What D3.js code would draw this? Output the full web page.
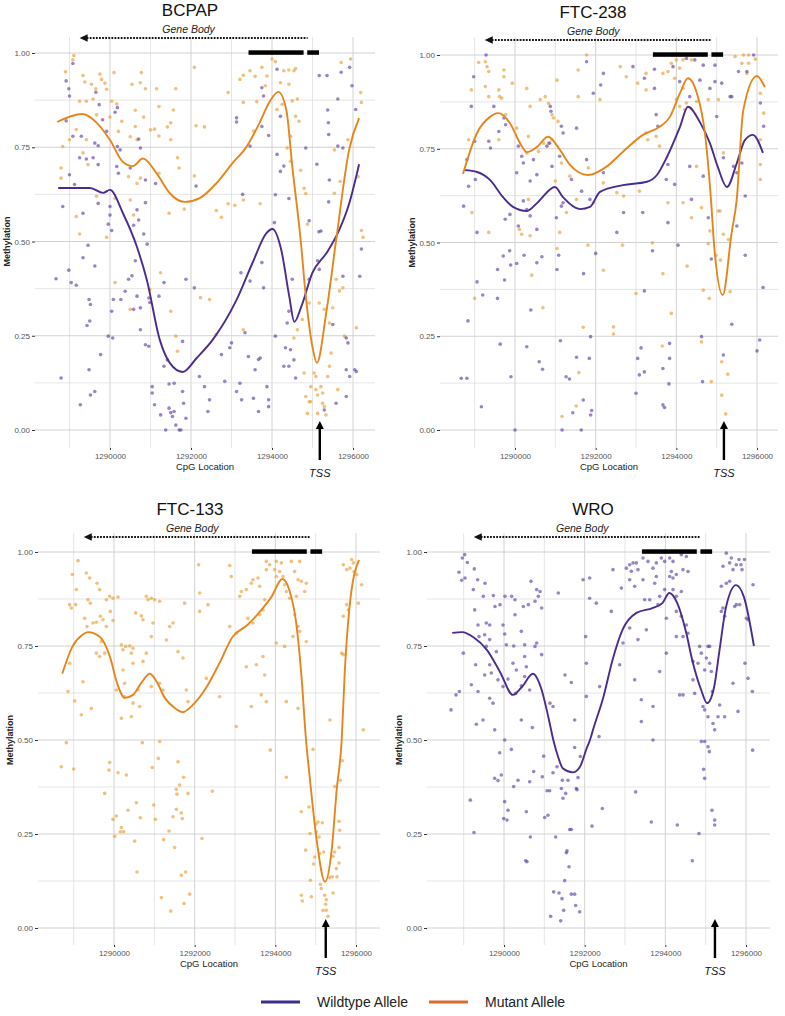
<!DOCTYPE html>
<html>
<head>
<meta charset="utf-8">
<script src="https://cdn.jsdelivr.net/npm/d3@7"></script>
<style>
  html, body { margin: 0; padding: 0; background: #fff; }
  svg text { font-family: "Liberation Sans", Arial, sans-serif; }
</style>
</head>
<body>
<svg id="chart" width="785" height="1016"></svg>
<script>
// ---------------- DATA ----------------
const panelTitles = ["BCPAP", "FTC-238", "FTC-133", "WRO"];
const seriesNames = ["Wildtype Allele", "Mutant Allele"];
const xTicks = [1290000, 1292000, 1294000, 1296000];
const yTicks = [0, 0.25, 0.5, 0.75, 1];
const xLabel = "CpG Location";
const yLabel = "Methylation";
const geneBodyLabel = "Gene Body";
const tssLabel = "TSS";
const tssPosition = [1295180, 1295180, 1295250, 1295230];
const geneBodyArrow = [1289250, 1294880];
const geneBodyLabelX = 1291940;
const exonBar1 = [1293420, 1294780];
const exonBar2 = [1294870, 1295160];

// BCPAP
const bcpapWtPoints = [[1289083,.972],[1288917,.926],[1288983,.905],[1289000,.886],[1289650,.896],[1290183,.855],[1290125,.843],[1289817,.823],[1289733,.863],[1290750,.748],[1290708,.772],[1288917,.82],[1289083,.779],[1289292,.779],[1289625,.761],[1289708,.754],[1289917,.792],[1290183,.752],[1290250,.743],[1289250,.722],[1289417,.719],[1289583,.722],[1289708,.704],[1290167,.699],[1290208,.681],[1290500,.695],[1290875,.663],[1291125,.654],[1292125,.647],[1289000,.677],[1289125,.651],[1289708,.601],[1288833,.593],[1289333,.575],[1290000,.593],[1290000,.57],[1290667,.584],[1290875,.603],[1290583,.543],[1290708,.557],[1289958,.546],[1290042,.529],[1290833,.52],
[1294125,.957],[1293750,.908],[1293792,.886],[1294208,.832],[1293125,.828],[1293125,.817],[1293750,.805],[1293917,.781],[1293458,.753],[1294833,.748],[1294125,.731],[1294292,.7],[1294208,.686],[1295108,.705],[1295375,.849],[1295358,.94],[1295167,.94],[1295708,.949],[1295917,.962],[1295975,.913],[1296067,.85],[1295625,.878],[1295392,.815],[1295400,.784],[1295625,.753],[1295750,.748],[1295417,.663],[1295400,.605],[1294083,.624],[1294417,.614],[1293275,.625],[1294058,.55],[1294917,.555],[1295158,.526],
[1288667,.401],[1288792,.138],[1288983,.424],[1289042,.391],[1289167,.384],[1289267,.067],[1289333,.457],[1289458,.49],[1289433,.277],[1289483,.346],[1289517,.333],[1289500,.289],[1289483,.16],[1289517,.093],[1289625,.102],[1289625,.435],[1289767,.2],[1289958,.249],[1290067,.244],[1290042,.315],[1290083,.346],[1290267,.346],[1290375,.368],[1290458,.4],[1290542,.409],[1290583,.32],[1290625,.449],[1290667,.355],[1290750,.324],[1290917,.493],[1290958,.35],[1290983,.338],[1290750,.266],[1290875,.226],[1290958,.222],[1291042,.115],[1291042,.098],[1291100,.067],[1291250,.04],[1291375,0],[1291458,.058],[1291500,.046],[1291542,.036],[1291583,.049],[1291625,.013],[1291708,0],[1291817,.071],[1291875,.031],[1291750,0],[1291792,.102],[1291583,.124],[1291458,.122],[1291417,.186],[1291333,.169],[1291208,.355],[1291333,.391],[1291792,.235],[1291875,.4],[1292083,.377],[1292208,.142],[1292333,.115],[1292417,.049],[1292458,.08],[1292750,.2],[1292833,.129],[1292958,.218],[1293000,.231],[1293125,.102],[1293208,.124],[1293233,.417],[1293250,.08],[1293333,.258],[1293417,.195],[1293458,.395],[1293542,.084],[1293583,.16],[1293667,.049],[1293708,.191],[1293750,.444],[1293792,.377],[1293667,.187],[1293875,.115],[1293917,.062],[1293917,.08],[1294083,.249],[1294333,.218],[1294375,.284],[1294417,.315],[1294458,.213],[1294500,.4],[1294292,.169],[1294417,.169],[1294542,.186],[1294583,.138],[1295292,.053],[1295500,.28],[1295208,.528],[1295125,.449],[1294917,.4],[1295167,.426],[1295750,.408],[1295875,.231],[1295833,.16],[1295833,.089],[1295917,.142],[1296042,.16],[1296083,.155],[1296167,.408],[1296208,.48],[1295583,.071],[1295833,.244]];
const bcpapMutPoints = [[1289108,.993],[1289083,.982],[1288900,.95],[1289333,.94],[1289375,.923],[1289542,.917],[1289650,.905],[1289750,.944],[1289792,.93],[1289875,.92],[1289917,.904],[1290100,.948],[1290167,.865],[1290000,.83],[1289667,.836],[1289583,.878],[1289417,.872],[1289250,.872],[1290042,.872],[1290542,.917],[1290750,.921],[1290875,.905],[1291150,.905],[1291625,.905],[1290775,.948],[1292083,.962],[1291208,.858],[1291567,.849],[1290625,.848],[1290833,.83],[1290292,.819],[1290625,.805],[1291000,.796],[1291100,.798],[1291417,.804],[1292125,.807],[1292333,.804],[1291500,.815],[1290208,.792],[1290500,.778],[1290667,.77],[1291208,.78],[1291500,.77],[1288833,.752],[1289000,.77],[1289167,.797],[1289417,.77],[1289333,.735],[1288792,.695],[1289458,.704],[1290458,.672],[1290750,.668],[1290667,.654],[1291208,.681],[1291667,.722],[1291708,.695],[1292083,.674],[1288792,.668],[1289667,.62],[1289167,.566],[1290125,.614],[1290500,.61],[1290583,.57],[1291458,.575],[1291833,.586],[1289250,.52],[1289917,.511],
[1293750,.962],[1294000,.984],[1294083,.977],[1294292,.953],[1294417,.955],[1294542,.953],[1294583,.959],[1293208,.93],[1293292,.941],[1293458,.953],[1293583,.938],[1293875,.939],[1293833,.913],[1293625,.871],[1293292,.869],[1292917,.895],[1294208,.921],[1294417,.917],[1294250,.864],[1294125,.85],[1294500,.873],[1294625,.878],[1294583,.832],[1294667,.819],[1293542,.793],[1294458,.779],[1294375,.748],[1294458,.713],[1294708,.689],[1295708,.975],[1295942,.984],[1296192,.895],[1296208,.869],[1295875,.77],[1295542,.743],[1295683,.659],[1295542,.628],[1296125,.672],[1294792,.641],[1294833,.627],[1292917,.6],[1293083,.596],[1293292,.61],[1293708,.6],[1292625,.582],[1292750,.564],[1294875,.546],[1296208,.529],
[1290125,.391],[1290500,.32],[1290983,.373],[1291250,.417],[1291500,.315],[1291625,.249],[1291667,.209],[1292233,.351],[1292458,.346],[1292625,.253],[1293292,.266],[1294542,.244],[1294625,.266],[1294750,.293],[1294792,.151],[1294833,.089],[1294875,.044],[1294917,.075],[1294958,.075],[1294958,.115],[1295042,.151],[1295083,.107],[1295125,.093],[1295208,.115],[1295250,.098],[1295250,.071],[1295292,.062],[1295333,.04],[1295125,.044],[1295083,.142],[1295375,.142],[1295417,.169],[1294917,.337],[1295167,.337],[1295292,.32],[1295417,.284],[1295500,.324],[1295458,.204],[1295583,.4],[1295667,.369],[1295750,.377],[1295792,.249],[1296083,.271],[1296250,.511],[1295625,.107]];
const bcpapWtSmooth = [[1288720,.642],[1289508,.642],[1289828,.629],[1290000,.637],[1290320,.575],[1290664,.486],[1290910,.398],[1291230,.239],[1291476,.178],[1291796,.154],[1292140,.191],[1292534,.239],[1293124,.345],[1293518,.443],[1293862,.522],[1294010,.533],[1294230,.477],[1294428,.353],[1294551,.287],[1294723,.327],[1294994,.416],[1295362,.472],[1295658,.53],[1295904,.6],[1296150,.705]];
const bcpapMutSmooth = [[1288696,.817],[1289311,.838],[1289680,.814],[1290000,.769],[1290320,.711],[1290566,.70],[1290812,.72],[1291156,.68],[1291476,.628],[1291845,.605],[1292214,.615],[1292632,.655],[1293026,.708],[1293370,.751],[1293690,.814],[1293936,.87],[1294157,.897],[1294354,.849],[1294502,.698],[1294708,.504],[1294830,.36],[1295000,.22],[1295110,.178],[1295338,.31],[1295584,.504],[1295904,.743],[1296150,.827]];

// FTC-238
const ftc238WtPoints = [[1289283,1.0],[1288975,.942],[1288917,.863],[1289475,.863],[1289725,.832],[1289767,.814],[1289000,.77],[1289350,.77],[1289392,.752],[1289600,.796],[1288808,.721],[1289017,.668],[1290083,.757],[1290167,.73],[1290042,.686],[1290208,.712],[1290458,.721],[1290542,.681],[1290375,.664],[1290792,.757],[1290858,.765],[1290917,.703],[1290875,.863],[1290892,.85],[1291150,.81],[1291192,.792],[1291108,.73],[1291400,.668],[1291525,.805],[1291650,.637],[1291775,.982],[1292125,.92],[1291942,.898],[1292192,.951],[1292925,.969],[1293458,.962],[1293458,.911],[1293208,.938],[1293917,.969],[1294250,.991],[1294458,.987],[1294083,.929],[1294667,.973],[1294958,.973],[1294583,.933],[1294833,.911],[1294958,.929],[1295125,.925],[1295333,.889],[1295375,.889],[1294333,.889],[1295000,.836],[1295917,1.0],[1295542,.956],[1295750,.956],[1296083,.872],[1296167,.81],[1295625,.712],[1295500,.686],[1295708,.624],[1295500,.544],[1293500,.841],[1293542,.81],[1293792,.708],[1293750,.668],[1293792,.553],[1293167,.58],[1293958,.655],[1294333,.703],[1294667,.677],[1294375,.615],[1294792,.566],[1295167,.726],[1295417,.703],[1291775,.721],[1291858,.615],[1292192,.686],[1292692,.58],[1292525,.527],[1291192,.606],[1291150,.597],[1291025,.566],[1290542,.535],[1290375,.571],[1290208,.611],[1290292,.588],[1290083,.544],[1289875,.575],[1289758,.562],[1289058,.527],[1288850,.65],[1288725,.597],
[1288667,.138],[1288808,.138],[1288833,.291],[1289058,.395],[1289200,.36],[1289167,.062],[1289567,.428],[1289567,.351],[1289633,.229],[1289708,.464],[1289742,.4],[1289867,.478],[1289892,.44],[1289900,.142],[1290000,0],[1290042,.444],[1290225,.466],[1290292,.222],[1290392,.32],[1290542,.446],[1290600,.182],[1290667,.462],[1290683,.162],[1291042,.428],[1291083,.466],[1291125,.238],[1291167,0],[1291267,.142],[1291350,.136],[1291433,.046],[1291525,.194],[1291642,0],[1291692,.08],[1291700,.417],[1291842,.191],[1291875,.249],[1291875,.04],[1291900,.052],[1292000,.471],[1293000,.098],[1293042,.191],[1293083,.147],[1293125,.219],[1293208,.155],[1293208,.371],[1293408,.478],[1293667,.164],[1293667,.067],[1293708,.06],[1293833,.231],[1293833,.191],[1293817,.123],[1294042,.493],[1294625,.249],[1294650,.129],[1294867,.456],[1295167,.2],[1295375,.282],[1295708,.466],[1296000,.211],[1296067,.24],[1296150,.38]];
const ftc238MutPoints = [[1289100,.98],[1289267,.982],[1289308,.969],[1289350,.956],[1288917,.907],[1289267,.916],[1289350,.889],[1289600,.907],[1289617,.889],[1289667,.885],[1289725,.96],[1289725,.942],[1289933,.925],[1289767,.841],[1289600,.774],[1288850,.774],[1290042,.805],[1290333,.783],[1290292,.739],[1290583,.743],[1290708,.765],[1290833,.765],[1290917,.774],[1291000,.664],[1291042,.933],[1290292,.911],[1290375,.863],[1290625,.881],[1290750,.889],[1290833,.871],[1290917,.841],[1290958,.832],[1291067,.823],[1291150,.712],[1291358,.677],[1291775,1.0],[1291567,.96],[1292108,.881],[1291567,.889],[1292608,.969],[1292758,.942],[1293042,.925],[1293250,.907],[1293250,.951],[1293667,.951],[1293792,.956],[1294000,.987],[1294167,.987],[1294375,.987],[1294083,.965],[1293875,.978],[1293958,.938],[1294167,.911],[1294792,.881],[1294000,.881],[1294083,.863],[1294250,.872],[1294500,.876],[1294208,.854],[1295042,.881],[1295458,.996],[1295625,.978],[1295667,1.0],[1295792,1.0],[1295958,.989],[1295792,.978],[1295750,.951],[1296083,.898],[1296167,.845],[1296083,.774],[1296083,.708],[1296083,.668],[1293500,.783],[1293583,.757],[1293250,.792],[1293292,.774],[1293083,.637],[1293792,.606],[1294167,.606],[1294500,.703],[1294625,.593],[1294375,.566],[1294833,.531],[1295042,.584],[1295083,.584],[1295167,.522],[1295167,.739],[1291817,.699],[1292192,.659],[1292525,.633],[1292692,.624],[1291942,.606],[1291525,.615],[1291275,.58],[1291108,.527],[1290333,.615],[1290108,.535],[1289350,.527],[1288933,.58],[1290375,.518],
[1289000,.351],[1290167,.522],[1290417,.413],[1290692,.326],[1291042,.484],[1291167,.036],[1291517,.064],[1291583,.153],[1291692,.274],[1291808,.493],[1292192,.426],[1292442,.275],[1292442,.256],[1292667,.493],[1293000,.364],[1293408,.499],[1293650,.224],[1293667,.417],[1293875,.311],[1294267,.437],[1294667,.373],[1294625,.235],[1294817,.351],[1294867,.129],[1294983,.466],[1295092,.453],[1295125,.182],[1295125,.093],[1295225,.043],[1295275,.149],[1295333,.369],[1295292,.508],[1294792,.497]];
const ftc238WtSmooth = [[1288761,.693],[1289058,.688],[1289380,.667],[1289703,.621],[1289950,.595],[1290297,.584],[1290545,.605],[1290991,.648],[1291189,.621],[1291611,.589],[1291859,.595],[1292107,.635],[1292676,.653],[1293271,.662],[1293519,.68],[1293767,.728],[1294089,.808],[1294287,.862],[1294584,.821],[1294832,.765],[1295030,.701],[1295253,.648],[1295501,.712],[1295699,.773],[1295898,.787],[1296146,.739]];
const ftc238MutSmooth = [[1288711,.683],[1289058,.792],[1289380,.835],[1289579,.845],[1289876,.818],[1290124,.765],[1290297,.741],[1290545,.755],[1290818,.782],[1291115,.747],[1291363,.707],[1291809,.68],[1292280,.703],[1292676,.742],[1293172,.787],[1293593,.809],[1293841,.835],[1294089,.898],[1294287,.938],[1294510,.898],[1294708,.792],[1294860,.613],[1294940,.488],[1295150,.36],[1295370,.525],[1295496,.613],[1295660,.853],[1295997,.944],[1296195,.914]];

// FTC-133 (mutant only)
const ftc133MutPoints = [[1289107,.977],[1288967,.94],[1289314,.944],[1289397,.931],[1289579,.917],[1289645,.9],[1289066,.9],[1289050,.86],[1288900,.86],[1288942,.851],[1289355,.873],[1289413,.864],[1289273,.824],[1289331,.802],[1289479,.811],[1289562,.813],[1289727,.82],[1289810,.873],[1289893,.882],[1289975,.877],[1290099,.88],[1289909,.842],[1289975,.818],[1289810,.802],[1289661,.829],[1289686,.762],[1289562,.731],[1289645,.722],[1289769,.731],[1288900,.704],[1288860,.629],[1289231,.655],[1289190,.567],[1289438,.584],[1289025,.604],[1290182,.753],[1290223,.74],[1290289,.749],[1290388,.75],[1290471,.744],[1290430,.731],[1290537,.838],[1290678,.83],[1290719,.82],[1290802,.882],[1290843,.873],[1290926,.877],[1291008,.873],[1291132,.869],[1290967,.811],[1290926,.775],[1290802,.731],[1290719,.709],[1290471,.704],[1290223,.686],[1290264,.651],[1290058,.633],[1290264,.615],[1290595,.633],[1290471,.598],[1290182,.558],[1290430,.562],[1290636,.589],[1290926,.642],[1291132,.651],[1291215,.633],[1291298,.766],[1291380,.802],[1291463,.811],[1291587,.735],[1291711,.718],[1291793,.633],[1291835,.602],[1291752,.864],[1292124,.891],[1292124,.842],[1292331,.86],[1292099,.966],[1292289,.664],[1292620,.615],[1292868,.964],[1292909,.935],[1292868,.802],[1293033,.784],[1293116,.882],[1293157,.895],[1293281,.9],[1293405,.917],[1293446,.926],[1293570,.931],[1293612,.909],[1293322,.824],[1293446,.811],[1293612,.833],[1293694,.846],[1293736,.873],[1293777,.953],[1293777,.975],[1293860,.966],[1293983,.953],[1294025,.975],[1294025,.935],[1294107,.948],[1294149,.971],[1294190,.935],[1294231,.913],[1294273,.895],[1294397,.975],[1294479,.948],[1294562,.926],[1294603,.975],[1294645,.922],[1294727,.895],[1294521,.882],[1294355,.877],[1294479,.833],[1294562,.802],[1294603,.789],[1294769,.762],[1294438,.775],[1294231,.749],[1294025,.758],[1293694,.722],[1293529,.7],[1293736,.673],[1293653,.62],[1293777,.602],[1293405,.589],[1293281,.695],[1293033,.536],[1294273,.602],[1294562,.584],[1295355,.553],[1295645,.731],[1295686,.727],[1295686,.829],[1295769,.86],[1295810,.846],[1295686,.966],[1295769,.953],[1295851,.957],[1295893,.98],[1295934,.971],[1295950,.948],[1296017,.94],[1296058,.864],[1296141,.913],[1296182,.527],[1294769,.917],
[1288818,.493],[1288694,.429],[1289000,.423],[1289769,.358],[1289893,.44],[1289876,.42],[1290099,.413],[1290306,.407],[1289975,.289],[1290058,.298],[1290017,.244],[1290182,.267],[1290157,.256],[1290240,.256],[1290347,.313],[1290554,.333],[1290512,.231],[1290570,.149],[1290653,.293],[1290702,.493],[1290950,.427],[1290983,.327],[1291025,.289],[1291099,.451],[1291132,.496],[1291174,.081],[1291231,.235],[1291364,.258],[1291405,.045],[1291504,.214],[1291463,.296],[1291545,.316],[1291545,.369],[1291562,.356],[1291587,.442],[1291628,.38],[1291669,.306],[1291694,.291],[1291669,.14],[1291735,.065],[1291727,.401],[1291777,.149],[1291835,.358],[1291876,.09],[1292182,.238],[1292438,.364],[1293876,.473],[1294273,.401],[1294645,.309],[1294752,.207],[1294835,.322],[1294645,.087],[1294669,.072],[1294868,.127],[1294893,.083],[1294934,.475],[1294975,.189],[1294950,.17],[1295000,.276],[1295017,.256],[1295058,.282],[1295083,.242],[1295099,.198],[1295116,.116],[1295140,.105],[1295165,.28],[1295198,.202],[1295223,.087],[1295248,.063],[1295264,.047],[1295306,.031],[1295182,.047],[1295264,.075],[1295347,.134],[1295413,.136],[1295430,.093],[1295430,.191],[1295471,.202],[1295512,.158],[1295529,.136],[1295579,.173],[1295579,.214],[1295471,.376],[1295595,.26],[1295612,.393],[1295661,.445],[1295579,.284],[1294860,.251]];
const ftc133MutSmooth = [[1288716,.676],[1288963,.747],[1289210,.779],[1289358,.787],[1289654,.774],[1289901,.721],[1290074,.652],[1290272,.612],[1290469,.62],[1290691,.654],[1290889,.676],[1291062,.654],[1291259,.612],[1291506,.585],[1291704,.574],[1291951,.593],[1292296,.641],[1292617,.705],[1292938,.774],[1293308,.806],[1293654,.846],[1293900,.88],[1294173,.928],[1294346,.899],[1294518,.811],[1294642,.678],[1294761,.5],[1294860,.393],[1295025,.234],[1295232,.123],[1295397,.207],[1295521,.367],[1295645,.5],[1295720,.678],[1295840,.854],[1296074,.979]];

// WRO (wildtype only)
const wroWtPoints = [[1289025,.993],[1288967,.984],[1289091,.972],[1288884,.946],[1288950,.925],[1289033,.931],[1289264,.955],[1289347,.926],[1289529,.917],[1289240,.9],[1289488,.882],[1289736,.884],[1289777,.855],[1289901,.86],[1290025,.882],[1290190,.882],[1290273,.873],[1290273,.833],[1290479,.855],[1290603,.86],[1290669,.922],[1290769,.869],[1290810,.9],[1290893,.895],[1290851,.882],[1290934,.851],[1290810,.758],[1290934,.727],[1289273,.846],[1289355,.806],[1289562,.811],[1289645,.806],[1289645,.767],[1289521,.78],[1289380,.775],[1289562,.749],[1289297,.7],[1289645,.7],[1289810,.735],[1289975,.806],[1290017,.782],[1290058,.753],[1290223,.704],[1290240,.75],[1290430,.789],[1290512,.753],[1290512,.722],[1290554,.695],[1290512,.669],[1290769,.749],[1288992,.731],[1288686,.58],[1288810,.62],[1288893,.629],[1289190,.647],[1289355,.629],[1289521,.673],[1289686,.678],[1289851,.66],[1289975,.642],[1290099,.662],[1290306,.686],[1290289,.624],[1290430,.644],[1290636,.633],[1289645,.611],[1289727,.598],[1289314,.542],[1289479,.553],[1289769,.527],[1290017,.5],[1290702,.533],[1290430,.553],[1291140,.598],[1291215,.589],[1291347,.891],[1291512,.673],[1291669,.653],[1291752,.553],[1291959,.926],[1292124,.931],[1292041,.704],[1292025,.775],[1292124,.877],[1292289,.864],[1292372,.642],[1292355,.509],[1292661,.842],[1292702,.953],[1292909,.904],[1293033,.957],[1293116,.966],[1293198,.971],[1293157,.949],[1293322,.953],[1293281,.971],[1293446,.984],[1293570,.975],[1293694,.957],[1293777,.971],[1293901,.984],[1293983,.975],[1294107,.984],[1294190,.975],[1294397,.993],[1294521,.988],[1293116,.926],[1293240,.909],[1293446,.926],[1293777,.935],[1294149,.948],[1294273,.94],[1294438,.953],[1294562,.948],[1294107,.935],[1294190,.931],[1294190,.9],[1293736,.917],[1293860,.882],[1293983,.9],[1294273,.882],[1294397,.895],[1293488,.873],[1293612,.873],[1293818,.86],[1294273,.842],[1294397,.829],[1294521,.806],[1294438,.775],[1294562,.784],[1294025,.824],[1293529,.793],[1293322,.767],[1293116,.798],[1292950,.758],[1292868,.7],[1293240,.66],[1293405,.607],[1293694,.589],[1293860,.682],[1294025,.731],[1294273,.775],[1294355,.62],[1294438,.62],[1294686,.709],[1294686,.66],[1294727,.624],[1294810,.704],[1294851,.749],[1294893,.731],[1294975,.686],[1295017,.718],[1295058,.749],[1295099,.704],[1295140,.682],[1295165,.629],[1295099,.749],[1294934,.589],[1294975,.58],[1295058,.562],[1295182,.544],[1295223,.527],[1295306,.562],[1295471,.562],[1295347,.593],[1295388,.842],[1295430,.851],[1295471,.829],[1295388,.909],[1295430,.962],[1295512,.997],[1295595,.971],[1295636,.984],[1295678,.953],[1295760,.966],[1295826,.98],[1295876,.966],[1295901,.953],[1295959,.98],[1295512,.917],[1295595,.922],[1295719,.855],[1295760,.86],[1295843,.86],[1296008,.824],[1296050,.82],[1296174,.913],[1296050,.664],[1296157,.629],[1295975,.704],[1295802,.576],[1295678,.651],[1292041,.616],[1293405,.549],
[1289165,.34],[1289256,.254],[1289893,.466],[1289769,.398],[1289851,.392],[1289934,.407],[1290017,.336],[1289992,.291],[1290074,.287],[1290099,.313],[1290182,.475],[1290240,.376],[1290347,.393],[1290554,.309],[1290537,.179],[1290570,.176],[1290636,.389],[1290653,.242],[1290736,.416],[1290950,.402],[1290983,.457],[1291008,.294],[1291091,.3],[1291066,.365],[1291132,.365],[1291157,.031],[1291215,.413],[1291231,.096],[1291281,.242],[1291314,.429],[1291364,.093],[1291405,.019],[1291438,.078],[1291422,.371],[1291446,.393],[1291463,.345],[1291479,.047],[1291504,.126],[1291529,.358],[1291562,.205],[1291545,.2],[1291587,.393],[1291612,.163],[1291628,.262],[1291669,.262],[1291669,.09],[1291752,.09],[1291752,.48],[1291793,.371],[1291810,.368],[1291835,.4],[1291777,.06],[1291876,.043],[1291893,.456],[1292182,.271],[1292438,.318],[1293264,.362],[1293653,.282],[1294297,.274],[1294669,.179],[1294835,.251],[1294893,.496],[1294975,.496],[1294950,.422],[1294975,.398],[1295058,.482],[1295091,.469],[1295157,.313],[1295223,.287],[1295223,.274],[1296165,.473],[1293694,.5]];
const wroWtSmooth = [[1288716,.785],[1288963,.787],[1289235,.774],[1289580,.739],[1289901,.681],[1290222,.62],[1290444,.641],[1290716,.676],[1290934,.633],[1291099,.561],[1291223,.5],[1291339,.456],[1291463,.424],[1291703,.414],[1291884,.429],[1292050,.478],[1292132,.5],[1292215,.53],[1292463,.614],[1292691,.713],[1292938,.793],[1293284,.838],[1293679,.851],[1293926,.864],[1294099,.891],[1294296,.864],[1294518,.785],[1294666,.713],[1294889,.633],[1295037,.598],[1295210,.641],[1295333,.731],[1295506,.854],[1295753,.912],[1295950,.88],[1296197,.75]];

// ---------------- LAYOUT / STYLE ----------------
const panels = [
  { title: panelTitles[0], titleX: 190, wt: bcpapWtPoints, mut: bcpapMutPoints, wtLine: bcpapWtSmooth, mutLine: bcpapMutSmooth, tss: tssPosition[0],
    px0: 110, px1: 353, yTop: 53, yBot: 430, gl: 35, gr: 375, gt: 37, gb: 448 },
  { title: panelTitles[1], titleX: 593, wt: ftc238WtPoints, mut: ftc238MutPoints, wtLine: ftc238WtSmooth, mutLine: ftc238MutSmooth, tss: tssPosition[1],
    px0: 515, px1: 757, yTop: 55, yBot: 430, gl: 440, gr: 778, gt: 37, gb: 448 },
  { title: panelTitles[2], titleX: 190, wt: [], mut: ftc133MutPoints, wtLine: null, mutLine: ftc133MutSmooth, tss: tssPosition[2],
    px0: 114, px1: 356, yTop: 552, yBot: 928, gl: 38, gr: 380, gt: 533, gb: 945 },
  { title: panelTitles[3], titleX: 593, wt: wroWtPoints, mut: [], wtLine: wroWtSmooth, mutLine: null, tss: tssPosition[3],
    px0: 504, px1: 746, yTop: 552, yBot: 928, gl: 427, gr: 770, gt: 533, gb: 945 }
];

const COL_WT_PT = "#5b3a9e";
const COL_MUT_PT = "#e89a2c";
const COL_WT_LINE = "#4a2b8f";
const COL_MUT_LINE = "#e6861a";
const COL_WT_LEG = "#3b2f8f";
const COL_MUT_LEG = "#e0682c";

const svg = d3.select("#chart");

panels.forEach(p => {
  const x = d3.scaleLinear().domain([xTicks[0], xTicks[xTicks.length - 1]]).range([p.px0, p.px1]);
  const y = d3.scaleLinear().domain([0, 1]).range([p.yBot, p.yTop]);
  const g = svg.append("g");

  // grid
  const xMin = x.invert(p.gl), xMax = x.invert(p.gr);
  const vGrid = d3.range(Math.ceil(xMin / 1000) * 1000, xMax, 1000);
  g.selectAll(null).data(vGrid).join("line")
    .attr("x1", d => x(d)).attr("x2", d => x(d))
    .attr("y1", p.gt).attr("y2", p.gb)
    .attr("stroke", d => d % 2000 === 0 ? "#d2d2d2" : "#dedede")
    .attr("stroke-width", d => d % 2000 === 0 ? 1 : 0.8);
  const hGrid = d3.range(0, 1.0001, 0.125);
  g.selectAll(null).data(hGrid).join("line")
    .attr("x1", p.gl).attr("x2", p.gr)
    .attr("y1", d => y(d)).attr("y2", d => y(d))
    .attr("stroke", (d, i) => i % 2 === 0 ? "#d2d2d2" : "#dedede")
    .attr("stroke-width", (d, i) => i % 2 === 0 ? 1 : 0.8);

  // axes
  const yAxis = d3.axisLeft(y).tickValues(yTicks).tickFormat(d3.format(".2f")).tickSize(3).tickPadding(2);
  const ya = g.append("g").attr("transform", `translate(${p.gl},0)`).call(yAxis);
  ya.select(".domain").remove();
  ya.selectAll("line").attr("stroke", "#333");
  ya.selectAll("text").attr("font-size", 8).attr("fill", "#555").attr("font-family", "Liberation Sans, Arial, sans-serif");

  const xAxis = d3.axisBottom(x).tickValues(xTicks).tickFormat(d3.format("d")).tickSize(2).tickPadding(3);
  const xa = g.append("g").attr("transform", `translate(0,${p.gb})`).call(xAxis);
  xa.select(".domain").remove();
  xa.selectAll("line").attr("stroke", "#333");
  xa.selectAll("text").attr("font-size", 8).attr("fill", "#555").attr("font-family", "Liberation Sans, Arial, sans-serif");

  // axis titles
  g.append("text").attr("x", (p.gl + p.gr) / 2).attr("y", p.gb + 22)
    .attr("text-anchor", "middle").attr("font-size", 9.5).attr("fill", "#222").text(xLabel);
  g.append("text")
    .attr("transform", `translate(${p.gl - 25},${(p.yTop + p.yBot) / 2}) rotate(-90)`)
    .attr("text-anchor", "middle").attr("font-size", 9).attr("font-weight", "bold").attr("fill", "#222").text(yLabel);

  // points
  const pts = g.append("g");
  pts.selectAll(null).data(p.mut).join("circle")
    .attr("cx", d => x(d[0])).attr("cy", d => y(d[1])).attr("r", 1.8)
    .attr("fill", COL_MUT_PT).attr("fill-opacity", 0.62);
  pts.selectAll(null).data(p.wt).join("circle")
    .attr("cx", d => x(d[0])).attr("cy", d => y(d[1])).attr("r", 1.8)
    .attr("fill", COL_WT_PT).attr("fill-opacity", 0.62);

  // smooth lines
  const line = d3.line().x(d => x(d[0])).y(d => y(d[1])).curve(d3.curveMonotoneX);
  if (p.wtLine) g.append("path").attr("d", line(p.wtLine)).attr("fill", "none")
    .attr("stroke", COL_WT_LINE).attr("stroke-width", 1.9);
  if (p.mutLine) g.append("path").attr("d", line(p.mutLine)).attr("fill", "none")
    .attr("stroke", COL_MUT_LINE).attr("stroke-width", 1.9);

  // title
  g.append("text").attr("x", p.titleX).attr("y", p.yTop - 37).attr("text-anchor", "middle")
    .attr("font-size", 17).attr("fill", "#111").text(p.title);

  // gene body label + dotted arrow
  g.append("text").attr("x", x(geneBodyLabelX)).attr("y", p.yTop - 20).attr("text-anchor", "middle")
    .attr("font-size", 10.5).attr("font-style", "italic").attr("fill", "#222").text(geneBodyLabel);
  const ay = p.yTop - 15;
  const ax0 = x(geneBodyArrow[0]), ax1 = x(geneBodyArrow[1]);
  g.append("line").attr("x1", ax0 + 7).attr("x2", ax1).attr("y1", ay).attr("y2", ay)
    .attr("stroke", "#111").attr("stroke-width", 2.2).attr("stroke-dasharray", "1.8,1.3");
  g.append("path").attr("d", `M${ax0},${ay} L${ax0 + 8},${ay - 3.8} L${ax0 + 8},${ay + 3.8} Z`).attr("fill", "#111");

  // exon bars
  [exonBar1, exonBar2].forEach(b => {
    g.append("rect").attr("x", x(b[0])).attr("width", x(b[1]) - x(b[0]))
      .attr("y", p.yTop - 2.7).attr("height", 4.5).attr("fill", "#000");
  });

  // TSS arrow
  const tx = x(p.tss);
  g.append("line").attr("x1", tx).attr("x2", tx).attr("y1", p.yBot - 2).attr("y2", p.yBot + 30)
    .attr("stroke", "#000").attr("stroke-width", 2.4);
  g.append("path").attr("d", `M${tx},${p.yBot - 9} L${tx - 4},${p.yBot - 1} L${tx + 4},${p.yBot - 1} Z`).attr("fill", "#000");
  g.append("text").attr("x", tx).attr("y", p.yBot + 47).attr("text-anchor", "middle")
    .attr("font-size", 11).attr("font-style", "italic").attr("fill", "#111").text(tssLabel);
});

// legend
const leg = svg.append("g");
const legItems = [
  { name: seriesNames[0], color: COL_WT_LEG, x: 261 },
  { name: seriesNames[1], color: COL_MUT_LEG, x: 429 }
];
legItems.forEach(it => {
  leg.append("line").attr("x1", it.x).attr("x2", it.x + 39).attr("y1", 1002).attr("y2", 1002)
    .attr("stroke", it.color).attr("stroke-width", 3);
  leg.append("text").attr("x", it.x + 56).attr("y", 1007).attr("font-size", 14).attr("fill", "#222").text(it.name);
});
</script>
</body>
</html>
